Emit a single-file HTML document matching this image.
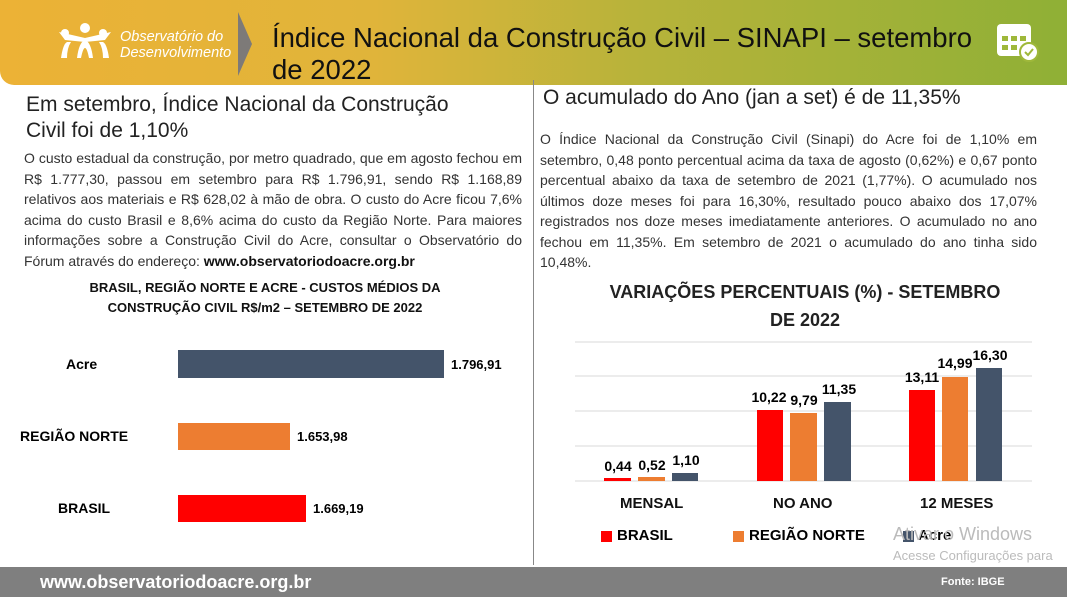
<!DOCTYPE html>
<html><head><meta charset="utf-8"><style>
body{margin:0;width:1067px;height:600px;overflow:hidden;background:#fff;font-family:"Liberation Sans",sans-serif;position:relative}
.a{position:absolute}
.hdr{left:0;top:0;width:1067px;height:85px;background:linear-gradient(90deg,#ecb236 0%,#e0b43a 35%,#b7b33a 60%,#8fb036 100%);border-radius:0 0 0 14px}
.t{color:#333;font-size:14px;line-height:20.5px}
.b{font-weight:bold}
</style></head><body>
<div class="a hdr"></div>
<svg class="a" style="left:55px;top:20px" width="60" height="40"><g fill="#fff"><circle cx="30" cy="8" r="5"/><circle cx="10" cy="13" r="4"/><circle cx="48" cy="13" r="4"/><path d="M4 12 L30 18 L56 12 L50 20 L30 22 L10 20Z"/><path d="M22 38 Q24 22 30 20 Q36 22 38 38 L34 38 Q32 28 30 28 Q28 28 26 38Z"/><path d="M6 38 Q8 24 12 22 L16 22 Q12 28 12 38Z"/><path d="M54 38 Q52 24 48 22 L44 22 Q48 28 48 38Z"/></g></svg>
<div class="a" style="left:120px;top:29px;color:#fff;font-style:italic;font-size:14.5px;line-height:16px">Observatório do<br>Desenvolvimento</div>
<svg class="a" style="left:238px;top:12px" width="16" height="64"><polygon points="0,0 14,32 0,64" fill="#7d7a78"/></svg>
<div class="a" style="left:272px;top:22px;font-size:27.5px;line-height:32px;color:#111">Índice Nacional da Construção Civil – SINAPI – setembro<br>de 2022</div>
<svg class="a" style="left:994px;top:18px" width="46" height="44"><rect x="3" y="6" width="34" height="32" rx="4" fill="#fff"/><g fill="#9fb83a"><rect x="8" y="18" width="6" height="5"/><rect x="17" y="18" width="6" height="5"/><rect x="26" y="18" width="6" height="5"/><rect x="8" y="27" width="6" height="5"/><rect x="17" y="27" width="6" height="5"/></g><circle cx="35" cy="34" r="9" fill="#fff" stroke="#9fb83a" stroke-width="2"/><path d="M31 34l3 3 5-6" stroke="#9fb83a" stroke-width="2" fill="none"/></svg>
<div class="a" style="left:533px;top:80px;width:1px;height:485px;background:#888"></div>

<div class="a" style="left:26px;top:92px;font-size:21px;line-height:26px;color:#222">Em setembro, Índice Nacional da Construção<br>Civil foi de 1,10%</div>
<div class="a t" style="left:24px;top:148px;width:498px;text-align:justify">O custo estadual da construção, por metro quadrado, que em agosto fechou em R$ 1.777,30, passou em setembro para R$ 1.796,91, sendo R$ 1.168,89 relativos aos materiais e R$ 628,02 à mão de obra. O custo do Acre ficou 7,6% acima do custo Brasil e 8,6% acima do custo da Região Norte. Para maiores informações sobre a Construção Civil do Acre, consultar o Observatório do Fórum através do endereço: <b style="color:#111">www.observatoriodoacre.org.br</b></div>
<div class="a b" style="left:60px;top:278px;width:410px;text-align:center;font-size:13px;line-height:20px;color:#111">BRASIL, REGIÃO NORTE E ACRE - CUSTOS MÉDIOS DA<br>CONSTRUÇÃO CIVIL R$/m2 – SETEMBRO DE 2022</div>
<div class="a b" style="left:66px;top:356px;font-size:14px">Acre</div>
<div class="a b" style="left:20px;top:428px;font-size:14px">REGIÃO NORTE</div>
<div class="a b" style="left:58px;top:500px;font-size:14px">BRASIL</div>
<div class="a" style="left:178px;top:350px;width:266px;height:28px;background:#44546a"></div>
<div class="a" style="left:178px;top:423px;width:112px;height:27px;background:#ed7d31"></div>
<div class="a" style="left:178px;top:495px;width:128px;height:27px;background:#f00"></div>
<div class="a b" style="left:451px;top:357px;font-size:13px">1.796,91</div>
<div class="a b" style="left:297px;top:429px;font-size:13px">1.653,98</div>
<div class="a b" style="left:313px;top:501px;font-size:13px">1.669,19</div>

<div class="a" style="left:543px;top:86px;font-size:21px;color:#222">O acumulado do Ano (jan a set) é de 11,35%</div>
<div class="a t" style="left:540px;top:129px;width:497px;text-align:justify">O Índice Nacional da Construção Civil (Sinapi) do Acre foi de 1,10% em setembro, 0,48 ponto percentual acima da taxa de agosto (0,62%) e 0,67 ponto percentual abaixo da taxa de setembro de 2021 (1,77%). O acumulado nos últimos doze meses foi para 16,30%, resultado pouco abaixo dos 17,07% registrados nos doze meses imediatamente anteriores. O acumulado no ano fechou em 11,35%. Em setembro de 2021 o acumulado do ano tinha sido 10,48%.</div>
<div class="a b" style="left:590px;top:278px;width:430px;text-align:center;font-size:18px;line-height:28px;color:#222">VARIAÇÕES PERCENTUAIS (%) - SETEMBRO<br>DE 2022</div>
<svg class="a" style="left:560px;top:330px" width="507" height="160" font-family="Liberation Sans" font-weight="bold" font-size="14" text-anchor="middle">
<g stroke="#d9d9d9"><line x1="15" x2="472" y1="12" y2="12"/><line x1="15" x2="472" y1="46" y2="46"/><line x1="15" x2="472" y1="81" y2="81"/><line x1="15" x2="472" y1="116" y2="116"/><line x1="15" x2="472" y1="151" y2="151"/></g>
<rect x="44" y="148" width="27" height="3" fill="#f00"/><rect x="78" y="147" width="27" height="4" fill="#ed7d31"/><rect x="112" y="143" width="26" height="8" fill="#44546a"/>
<rect x="197" y="80" width="26" height="71" fill="#f00"/><rect x="230" y="83" width="27" height="68" fill="#ed7d31"/><rect x="264" y="72" width="27" height="79" fill="#44546a"/>
<rect x="349" y="60" width="26" height="91" fill="#f00"/><rect x="382" y="47" width="26" height="104" fill="#ed7d31"/><rect x="416" y="38" width="26" height="113" fill="#44546a"/>
<text x="58" y="141">0,44</text><text x="92" y="140">0,52</text><text x="126" y="135">1,10</text>
<text x="209" y="72">10,22</text><text x="244" y="75">9,79</text><text x="279" y="64">11,35</text>
<text x="362" y="52">13,11</text><text x="395" y="38">14,99</text><text x="430" y="30">16,30</text>
</svg>
<div class="a b" style="left:620px;top:495px;font-size:15px;color:#111">MENSAL</div>
<div class="a b" style="left:773px;top:495px;font-size:15px;color:#111">NO ANO</div>
<div class="a b" style="left:920px;top:495px;font-size:15px;color:#111">12 MESES</div>
<div class="a" style="left:601px;top:531px;width:11px;height:11px;background:#f00"></div>
<div class="a b" style="left:617px;top:527px;font-size:15px">BRASIL</div>
<div class="a" style="left:733px;top:531px;width:11px;height:11px;background:#ed7d31"></div>
<div class="a b" style="left:749px;top:527px;font-size:15px">REGIÃO NORTE</div>
<div class="a" style="left:903px;top:531px;width:11px;height:11px;background:#44546a"></div>
<div class="a b" style="left:918px;top:527px;font-size:15px">Acre</div>
<div class="a" style="left:893px;top:524px;font-size:18px;color:#bbb">Ativar o Windows</div>
<div class="a" style="left:893px;top:548px;font-size:13px;color:#bbb;white-space:nowrap">Acesse Configurações para</div>

<div class="a" style="left:0;top:567px;width:1067px;height:30px;background:#7f7f7f"></div>
<div class="a b" style="left:40px;top:572px;font-size:18px;color:#fff">www.observatoriodoacre.org.br</div>
<div class="a b" style="left:941px;top:576px;font-size:11px;color:#fff">Fonte: IBGE</div>
</body></html>
